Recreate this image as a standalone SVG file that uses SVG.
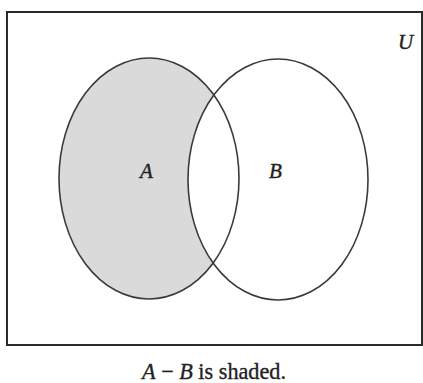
<svg xmlns="http://www.w3.org/2000/svg" width="423" height="383" viewBox="0 0 423 383">
<style>
.set{fill:none;stroke:#3a3a3a;stroke-width:1.6}
.lbl{font-family:"Liberation Serif","Times New Roman",serif;font-style:italic;fill:#222;stroke:#222;stroke-width:0.4}
.cap{font-family:"Liberation Serif","Times New Roman",serif;fill:#222;stroke:#222;stroke-width:0.35}
</style>
<defs>
<mask id="aMinusB">
<rect x="0" y="0" width="423" height="383" fill="black"/>
<ellipse cx="149" cy="178.5" rx="90" ry="120.5" fill="white"/>
<ellipse cx="278" cy="179.5" rx="90" ry="120.5" fill="black"/>
</mask>
</defs>
<rect width="423" height="383" fill="#ffffff"/>
<g id="universe">
<rect x="7" y="12" width="415" height="333" fill="none" stroke="#2a2a2a" stroke-width="2"/>
<text class="lbl" x="398" y="49" font-size="21" fill="#555" stroke="#555">U</text>
</g>
<g id="shading">
<rect x="0" y="0" width="423" height="383" fill="#dadada" mask="url(#aMinusB)"/>
</g>
<g id="setA">
<ellipse class="set" cx="149" cy="178.5" rx="90" ry="120.5"/>
<text class="lbl" x="140" y="178" font-size="21">A</text>
</g>
<g id="setB">
<ellipse class="set" cx="278" cy="179.5" rx="90" ry="120.5"/>
<text class="lbl" x="269" y="178" font-size="21">B</text>
</g>
<g id="caption">
<text class="cap" x="142" y="379" font-size="23" textLength="144" lengthAdjust="spacingAndGlyphs"><tspan font-style="italic">A</tspan> − <tspan font-style="italic">B</tspan> is shaded.</text>
</g>
</svg>
